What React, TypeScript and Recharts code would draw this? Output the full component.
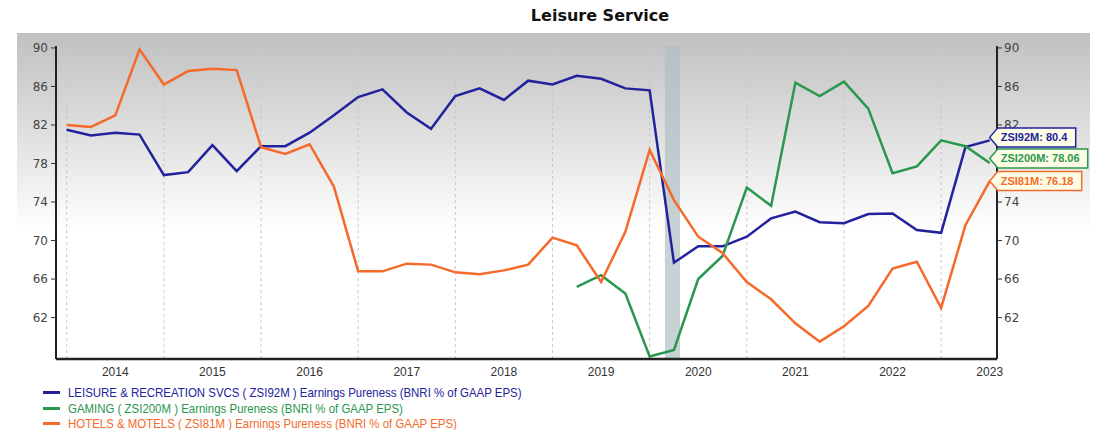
import React from 'react';
import {
  LineChart,
  Line,
  XAxis,
  YAxis,
  CartesianGrid,
  ReferenceLine,
  ReferenceArea,
} from 'recharts';

// quarterly points, index 0 = start of 2014
const leisure = [
  81.5, 80.9, 81.2, 81.0, 76.8, 77.1, 79.9, 77.2, 79.8, 79.8, 81.2, 83.0, 84.9, 85.7, 83.3, 81.6,
  85.0, 85.8, 84.6, 86.6, 86.2, 87.1, 86.8, 85.8, 85.6, 67.7, 69.4, 69.4, 70.4, 72.3, 73.0, 71.9,
  71.8, 72.75, 72.8, 71.1, 70.8, 79.7, 80.4,
];
const gaming = [
  null, null, null, null, null, null, null, null, null, null, null, null, null, null, null, null,
  null, null, null, null, null, 65.2, 66.4, 64.5, 57.96, 58.65, 66.0, 68.4, 75.5, 73.6, 86.4, 85.0,
  86.5, 83.7, 77.0, 77.7, 80.4, 79.8, 78.06,
];
const hotels = [
  82.0, 81.8, 83.0, 89.85, 86.2, 87.6, 87.85, 87.7, 79.7, 79.0, 80.0, 75.6, 66.8, 66.8, 67.6, 67.5,
  66.7, 66.5, 66.9, 67.5, 70.3, 69.5, 65.7, 70.9, 79.4, 74.2, 70.4, 68.7, 65.7, 63.9, 61.4, 59.5,
  61.1, 63.2, 67.1, 67.8, 63.0, 71.6, 76.18,
];

const years = ['2014', '2015', '2016', '2017', '2018', '2019', '2020', '2021', '2022', '2023'];
const yearTicks = [2, 6, 10, 14, 18, 22, 26, 30, 34, 38];
const yearStarts = [0, 4, 8, 12, 16, 20, 24, 28, 32, 36];
const yTicks = [62, 66, 70, 74, 78, 82, 86, 90];
const recession = [24.63, 25.25];

const series = [
  { key: 'lei', code: 'ZSI92M', name: 'LEISURE & RECREATION SVCS', color: '#22229c', dy: -3 },
  { key: 'gam', code: 'ZSI200M', name: 'GAMING', color: '#2a974e', dy: -4.5 },
  { key: 'hot', code: 'ZSI81M', name: 'HOTELS & MOTELS', color: '#f56a2a', dy: 0 },
];

const data = leisure.map((v, i) => ({ i, lei: v, gam: gaming[i], hot: hotels[i] }));
const last = leisure.length - 1;

const tickFont = { fontFamily: 'DejaVu Sans', fontSize: 12, fill: '#444' };

function EndTag(props: any) {
  const { x, y, index, value, color, code, dy } = props;
  if (index !== last || x == null || y == null) return null;
  const text = `${code}: ${value}`;
  const cy = y + dy;
  const h = 19;
  const left = x + 8;
  const right = left + text.length * 6 + 6;
  const pts = [
    [left, cy - h / 2],
    [right, cy - h / 2],
    [right, cy + h / 2],
    [left, cy + h / 2],
    [x, cy],
  ]
    .map((p) => p.join(','))
    .join(' ');
  return (
    <g>
      <polygon points={pts} fill="#fdfde6" stroke={color} strokeWidth={1.5} />
      <text
        x={left + 3}
        y={cy + 4}
        fill={color}
        fontFamily="Liberation Sans"
        fontWeight="bold"
        fontSize={11}
      >
        {text}
      </text>
    </g>
  );
}

export default function App() {
  return (
    <div style={{ position: 'absolute', left: 0, top: 0, width: 1102, height: 430, background: '#fff' }}>
      <div
        style={{
          position: 'absolute',
          left: 17,
          top: 33,
          width: 1073,
          height: 330,
          background: 'linear-gradient(to bottom, #c0c0c0 0%, #e4e4e4 35%, #ffffff 60%)',
        }}
      />
      <div
        style={{
          position: 'absolute',
          left: 0,
          top: 6,
          width: 1200,
          textAlign: 'center',
          fontFamily: 'DejaVu Sans',
          fontWeight: 'bold',
          fontSize: 16,
          color: '#111',
        }}
      >
        Leisure Service
      </div>
      <div style={{ position: 'absolute', left: 0, top: 0 }}>
        <LineChart
          width={1102}
          height={382}
          data={data}
          margin={{ top: 46, right: 65, bottom: 3, left: 16 }}
        >
          <CartesianGrid vertical={false} stroke="#c4c4c4" strokeDasharray="3 3" />
          {yearStarts.map((s) => (
            <ReferenceLine key={s} x={s} yAxisId="l" stroke="#c8c8c8" strokeDasharray="3 3" />
          ))}
          <ReferenceArea
            x1={recession[0]}
            x2={recession[1]}
            yAxisId="l"
            fill="#aebfc2"
            fillOpacity={0.7}
            stroke="none"
          />
          <XAxis
            dataKey="i"
            type="number"
            domain={[-0.44, 38.3]}
            ticks={yearTicks}
            tickFormatter={(v: number) => years[yearTicks.indexOf(v)]}
            tickLine={false}
            tickSize={6}
            axisLine={{ stroke: '#222', strokeWidth: 2.5 }}
            tick={{ fontFamily: 'Liberation Sans', fontSize: 12, fill: '#333' }}
            height={20}
            allowDataOverflow
          />
          <YAxis
            yAxisId="l"
            orientation="left"
            domain={[57.7, 90.2]}
            ticks={yTicks}
            width={40}
            tickSize={5}
            tickMargin={3}
            tick={tickFont}
            tickLine={{ stroke: '#333' }}
            axisLine={{ stroke: '#222', strokeWidth: 2 }}
            allowDataOverflow
          />
          <YAxis
            yAxisId="r"
            orientation="right"
            domain={[57.7, 90.2]}
            ticks={yTicks}
            width={40}
            tickSize={5}
            tickMargin={2}
            tick={tickFont}
            tickLine={{ stroke: '#333' }}
            axisLine={{ stroke: '#222', strokeWidth: 2 }}
            allowDataOverflow
          />
          {series.map((s) => (
            <Line
              key={s.key}
              yAxisId="l"
              dataKey={s.key}
              stroke={s.color}
              strokeWidth={2.5}
              dot={false}
              activeDot={false}
              connectNulls={false}
              isAnimationActive={false}
              label={(p: any) => <EndTag {...p} color={s.color} code={s.code} dy={s.dy} />}
            />
          ))}
        </LineChart>
      </div>
      <div
        style={{
          position: 'absolute',
          left: 43,
          top: 385,
          fontFamily: 'Liberation Sans',
          fontSize: 13,
          lineHeight: '15.5px',
        }}
      >
        {series.map((s) => (
          <div key={s.key} style={{ display: 'flex', alignItems: 'center', height: 15.5 }}>
            <span
              style={{ display: 'inline-block', width: 17, height: 3, background: s.color, marginRight: 8 }}
            />
            <span
              style={{
                display: 'inline-block',
                color: s.color,
                whiteSpace: 'nowrap',
                transform: 'scaleX(0.88)',
                transformOrigin: 'left center',
              }}
            >
              {s.name} ( {s.code} ) Earnings Pureness (BNRI % of GAAP EPS)
            </span>
          </div>
        ))}
      </div>
    </div>
  );
}
